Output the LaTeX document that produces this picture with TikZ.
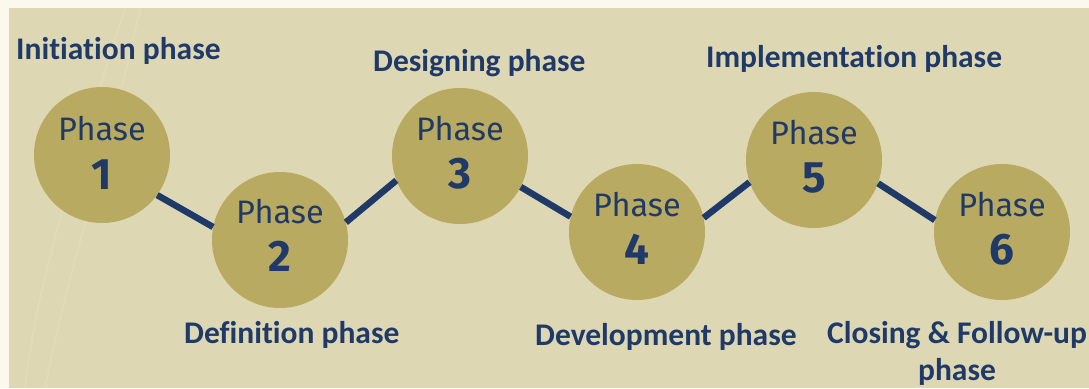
\documentclass[tikz,border=0pt]{standalone}
\usepackage{fontspec}
\setmainfont[RawFeature={-liga;-clig;-dlig;-calt}]{Carlito}
\newfontfamily\circfont{Fira Sans}
\definecolor{bgbeige}{HTML}{DDD7B3}
\definecolor{edgewhite}{HTML}{FBF8EE}
\definecolor{gold}{HTML}{B9AA62}
\definecolor{navy}{HTML}{1F3A68}
\tikzset{
  phasecircle/.style={circle, fill=gold, minimum size=136pt, inner sep=0pt},
  phaseword/.style={anchor=base, inner sep=0pt, text=navy, font=\circfont\fontsize{32.5}{36}\selectfont},
  phasenum/.style={anchor=base, inner sep=0pt, text=navy, font=\circfont\bfseries\fontsize{44}{48}\selectfont},
  phaselabel/.style={anchor=base west, inner sep=0pt, text=navy, font=\bfseries\fontsize{31.5}{37}\selectfont},
  phaselabelc/.style={anchor=base, inner sep=0pt, text=navy, font=\bfseries\fontsize{31.5}{37}\selectfont},
  connector/.style={draw=navy, line width=6.5pt},
  streak/.style={draw=white, line width=1.5pt, opacity=0.12}
}
\begin{document}
\begin{tikzpicture}[x=1pt, y=-1pt]
\useasboundingbox (0,0) rectangle (1089,388);
\fill[edgewhite] (0,0) rectangle (1089,388);
\fill[bgbeige] (9,8) rectangle (1089,388);
\draw[streak] (140,8) .. controls (110,150) and (70,260) .. (45,388);
\draw[streak] (125,8) .. controls (90,120) and (40,260) .. (25,388);

% circles
\node[phasecircle] (c1) at (102,155) {};
\node[phasecircle] (c2) at (280,240) {};
\node[phasecircle] (c3) at (460,156) {};
\node[phasecircle] (c4) at (637,232) {};
\node[phasecircle] (c5) at (814,160) {};
\node[phasecircle] (c6) at (1002,232) {};

% connectors
\draw[connector] (c1.-36) -- (c2.169);
\draw[connector] (c2.15) -- (c3.201);
\draw[connector] (c3.-27) -- (c4.167);
\draw[connector] (c4.12) -- (c5.199);
\draw[connector] (c5.-20) -- (c6.170);

% circle texts
\path (c1) ++(0,-15) node[phaseword] (w1) {Phase} ++(0,49) node[phasenum] (n1) {1};
\path (c2) ++(0,-17) node[phaseword] (w2) {Phase} ++(0,48) node[phasenum] (n2) {2};
\path (c3) ++(0,-16) node[phaseword] (w3) {Phase} ++(0,48) node[phasenum] (n3) {3};
\path (c4) ++(0,-16) node[phaseword] (w4) {Phase} ++(0,48) node[phasenum] (n4) {4};
\path (c5) ++(0,-16) node[phaseword] (w5) {Phase} ++(0,48) node[phasenum] (n5) {5};
\path (c6) ++(0,-16) node[phaseword] (w6) {Phase} ++(0,48) node[phasenum] (n6) {6};

% labels
\node[phaselabel] (l1) at (16,59) {Initiation phase};
\node[phaselabel] (l3) at (373,71) {Designing phase};
\node[phaselabel] (l5) at (706,67) {Implementation phase};
\node[phaselabel] (l2) at (184,343) {Definition phase};
\node[phaselabel] (l4) at (535,345) {Development phase};
\node[phaselabelc] (l6a) at (957,343) {Closing \& Follow-up};
\node[phaselabelc] (l6b) at (957,380) {phase};
\end{tikzpicture}
\end{document}
